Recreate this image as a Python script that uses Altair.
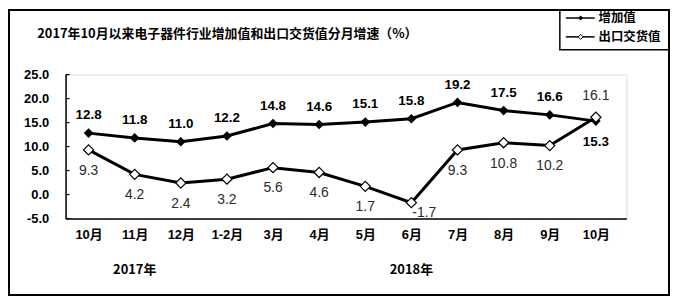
import altair as alt
import pandas as pd

months = ["10月", "11月", "12月", "1-2月", "3月", "4月", "5月", "6月", "7月", "8月", "9月", "10月"]
added = [12.8, 11.8, 11.0, 12.2, 14.8, 14.6, 15.1, 15.8, 19.2, 17.5, 16.6, 15.3]
export = [9.3, 4.2, 2.4, 3.2, 5.6, 4.6, 1.7, -1.7, 9.3, 10.8, 10.2, 16.1]
y_ticks = [-5, 0, 5, 10, 15, 20, 25]
year_labels = ["2017年", "2018年"]
year_pos = [1, 7]
series_names = ["增加值", "出口交货值"]
title_text = "2017年10月以来电子器件行业增加值和出口交货值分月增速（%）"

NUM = "Liberation Sans, Arial, Noto Sans CJK SC"
CJK = "Noto Sans CJK SC, Liberation Sans"

df = pd.DataFrame({"i": list(range(len(months))), "m": months, "a": added, "e": export})
yr = pd.DataFrame({"i": year_pos, "t": year_labels})
tk = pd.DataFrame({"v": y_ticks})
lg = pd.DataFrame({"name": series_names, "row": [0, 1]})

label_expr = "[" + ",".join("'%s'" % m for m in months) + "][datum.value]"
fmt_expr = "replace(format(datum.value, '.1f'), '\u2212', '-')"

xsc = alt.Scale(type="point", padding=0.58, align=0.43)
xaxis = alt.Axis(labelExpr=label_expr, labelAngle=0, ticks=False, domainColor="black",
                 domainWidth=1.5, labelFont=NUM, labelFontSize=13, labelFontWeight="bold",
                 labelColor="black", labelPadding=10, labelOverlap=False)
ysc = alt.Scale(domain=[-5, 25], nice=False, zero=False)
yaxis = alt.Axis(values=y_ticks, labelExpr=fmt_expr, ticks=False, grid=False,
                 domainColor="black", domainWidth=1.5, labelFont=NUM, labelFontSize=13,
                 labelFontWeight="bold", labelColor="black", labelPadding=17,
                 labelOverlap=False, labelSeparation=0)


def X():
    return alt.X("i:O", title=None, scale=xsc, axis=xaxis)


def Y(f):
    return alt.Y(f, title=None, scale=ysc, axis=yaxis)


base = alt.Chart(df).transform_calculate(
    la="replace(format(datum.a, '.1f'), '\u2212', '-')",
    le="replace(format(datum.e, '.1f'), '\u2212', '-')",
)

line_a = base.mark_line(color="black", strokeWidth=3).encode(x=X(), y=Y("a:Q"))
pts_a = base.mark_point(shape="diamond", filled=True, color="black", size=95, opacity=1).encode(
    x=X(), y=Y("a:Q"))
line_e = base.mark_line(color="black", strokeWidth=3).encode(x=X(), y=Y("e:Q"))
pts_e = base.mark_point(shape="diamond", filled=True, fill="white", stroke="black", strokeWidth=1.2,
                        size=105, opacity=1).encode(x=X(), y=Y("e:Q"))

ticks = alt.Chart(tk).mark_rule(color="black", strokeWidth=1.2).encode(
    y=Y("v:Q"), x=alt.value(0), x2=alt.value(4))

lab_a_up = base.transform_filter("datum.i < 11").mark_text(
    font=NUM, fontSize=13.5, fontWeight="bold", color="black", dy=-18).encode(
    x=X(), y=Y("a:Q"), text="la:N")
lab_a_dn = base.transform_filter("datum.i == 11").mark_text(
    font=NUM, fontSize=13.5, fontWeight="bold", color="black", dy=21).encode(
    x=X(), y=Y("a:Q"), text="la:N")
lab_e_dn = base.transform_filter("datum.i != 11 && datum.i != 7").mark_text(
    font=NUM, fontSize=14, color="#2a2a2a", dy=21).encode(
    x=X(), y=Y("e:Q"), text="le:N")
lab_e_neg = base.transform_filter("datum.i == 7").mark_text(
    font=NUM, fontSize=14, color="#2a2a2a", dx=13, dy=10).encode(
    x=X(), y=Y("e:Q"), text="le:N")
lab_e_up = base.transform_filter("datum.i == 11").mark_text(
    font=NUM, fontSize=14, color="#2a2a2a", dy=-21).encode(
    x=X(), y=Y("e:Q"), text="le:N")

years = alt.Chart(yr).mark_text(font=CJK, fontSize=13, fontWeight="bold", color="black").encode(
    x=X(), y=alt.value(197), text="t:N")

title = alt.Chart(yr).transform_filter("datum.i == 1").mark_text(
    font=CJK, fontSize=13, fontWeight="bold", color="black", align="center", baseline="middle",
    text=title_text).encode(x=alt.value(163), y=alt.value(-41))

frame = alt.Chart(yr).transform_filter("datum.i == 1").mark_rect(
    filled=False, stroke="black", strokeWidth=2).encode(
    x=alt.value(-57), x2=alt.value(608), y=alt.value(-65), y2=alt.value(222))
legbox = alt.Chart(yr).transform_filter("datum.i == 1").mark_rect(
    filled=False, stroke="black", strokeWidth=1.5).encode(
    x=alt.value(498), x2=alt.value(608), y=alt.value(-65), y2=alt.value(-25))

LY0, LY1 = -57, -38
lg0 = lg[lg.row == 0]
lg1 = lg[lg.row == 1]
leg_line0 = alt.Chart(lg0).mark_rule(color="black", strokeWidth=1.5).encode(
    x=alt.value(504), x2=alt.value(533), y=alt.value(LY0))
leg_line1 = alt.Chart(lg1).mark_rule(color="black", strokeWidth=1.5).encode(
    x=alt.value(504), x2=alt.value(533), y=alt.value(LY1))
leg_pt0 = alt.Chart(lg0).mark_point(shape="diamond", filled=True, color="black", size=25, opacity=1).encode(
    x=alt.value(519), y=alt.value(LY0))
leg_pt1 = alt.Chart(lg1).mark_point(shape="diamond", filled=True, fill="white", stroke="black",
                                    strokeWidth=1, size=25, opacity=1).encode(
    x=alt.value(519), y=alt.value(LY1))
leg_txt0 = alt.Chart(lg0).mark_text(font=CJK, fontSize=12.5, fontWeight="bold", color="black",
                                    align="left", baseline="middle").encode(
    x=alt.value(537), y=alt.value(LY0), text="name:N")
leg_txt1 = alt.Chart(lg1).mark_text(font=CJK, fontSize=12.5, fontWeight="bold", color="black",
                                    align="left", baseline="middle").encode(
    x=alt.value(537), y=alt.value(LY1), text="name:N")

chart = alt.layer(
    frame, legbox, title, line_a, line_e, pts_a, pts_e, ticks,
    lab_a_up, lab_a_dn, lab_e_dn, lab_e_neg, lab_e_up, years,
    leg_line0, leg_line1, leg_pt0, leg_pt1, leg_txt0, leg_txt1,
).properties(
    width=565, height=145,
    autosize=alt.AutoSizeParams(type="none"),
    padding={"left": 58, "top": 66, "right": 45, "bottom": 79},
).configure_view(stroke=None).configure(background="white")

chart.save("out.html", embed_options={"renderer": "svg", "actions": False})
